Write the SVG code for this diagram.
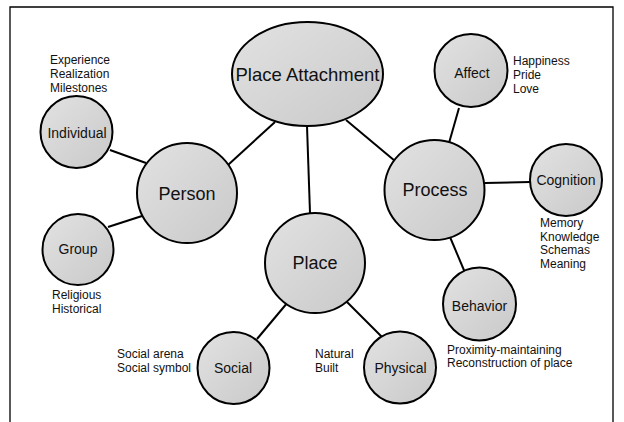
<svg xmlns="http://www.w3.org/2000/svg" width="624" height="422" viewBox="0 0 624 422">
  <defs>
    <linearGradient id="nodeFill" x1="0" y1="0" x2="1" y2="1">
      <stop offset="0" stop-color="#e2e2e2"/>
      <stop offset="1" stop-color="#c9c9c9"/>
    </linearGradient>
  </defs>
  <style>
    .node { fill: url(#nodeFill); stroke: #000; stroke-width: 2; }
    .edge { stroke: #000; stroke-width: 2; fill: none; }
    .frame { stroke: #000; stroke-width: 1.3; fill: none; }
    text { font-family: "Liberation Sans", Arial, sans-serif; fill: #111; }
    .big { font-size: 18px; text-anchor: middle; }
    .title { font-size: 18.5px; text-anchor: middle; }
    .mid { font-size: 14px; text-anchor: middle; }
    .note { font-size: 12px; }
  </style>

  <!-- outer frame: open at the bottom -->
  <path class="frame" d="M10,422 V7 H613 V422"/>

  <!-- connectors -->
  <g id="connectors">
    <line class="edge" x1="275" y1="122" x2="228" y2="165"/>
    <line class="edge" x1="307" y1="126" x2="310" y2="213"/>
    <line class="edge" x1="346" y1="120" x2="395" y2="161"/>
    <line class="edge" x1="459" y1="108" x2="449" y2="143"/>
    <line class="edge" x1="485" y1="183" x2="530" y2="182"/>
    <line class="edge" x1="450" y1="237" x2="466" y2="275"/>
    <line class="edge" x1="110" y1="150" x2="146" y2="163"/>
    <line class="edge" x1="108" y1="227" x2="142" y2="216"/>
    <line class="edge" x1="288" y1="302" x2="257" y2="339"/>
    <line class="edge" x1="345" y1="300" x2="382" y2="337"/>
  </g>

  <g id="place-attachment">
    <ellipse class="node" cx="307.5" cy="74" rx="75.5" ry="52"/>
    <text class="title" x="307.5" y="81">Place Attachment</text>
  </g>

  <g id="person">
    <circle class="node" cx="187" cy="193" r="50"/>
    <text class="big" x="187" y="200">Person</text>
  </g>

  <g id="individual">
    <circle class="node" cx="76.5" cy="132" r="36"/>
    <text class="mid" x="77" y="138">Individual</text>
    <text class="note" x="50" y="64">Experience</text>
    <text class="note" x="50" y="78">Realization</text>
    <text class="note" x="50" y="92">Milestones</text>
  </g>

  <g id="group">
    <circle class="node" cx="78" cy="249.5" r="35.5"/>
    <text class="mid" x="78" y="254">Group</text>
    <text class="note" x="52" y="299">Religious</text>
    <text class="note" x="52" y="313">Historical</text>
  </g>

  <g id="place">
    <circle class="node" cx="315" cy="263" r="50"/>
    <text class="big" x="315" y="269">Place</text>
  </g>

  <g id="social">
    <circle class="node" cx="233.5" cy="368" r="36"/>
    <text class="mid" x="233" y="373">Social</text>
    <text class="note" x="117" y="358">Social arena</text>
    <text class="note" x="117" y="372">Social symbol</text>
  </g>

  <g id="physical">
    <circle class="node" cx="400" cy="367.5" r="36"/>
    <text class="mid" x="400.5" y="373">Physical</text>
    <text class="note" x="315" y="358">Natural</text>
    <text class="note" x="315" y="372">Built</text>
  </g>

  <g id="process">
    <circle class="node" cx="434.5" cy="190" r="50"/>
    <text class="big" x="435" y="196">Process</text>
  </g>

  <g id="affect">
    <circle class="node" cx="471" cy="70.5" r="36.5"/>
    <text class="mid" x="472" y="78">Affect</text>
    <text class="note" x="513" y="65">Happiness</text>
    <text class="note" x="513" y="79">Pride</text>
    <text class="note" x="513" y="93">Love</text>
  </g>

  <g id="cognition">
    <circle class="node" cx="566" cy="180" r="36"/>
    <text class="mid" x="566" y="185">Cognition</text>
    <text class="note" x="540" y="227">Memory</text>
    <text class="note" x="540" y="241">Knowledge</text>
    <text class="note" x="540" y="254">Schemas</text>
    <text class="note" x="540" y="268">Meaning</text>
  </g>

  <g id="behavior">
    <circle class="node" cx="479.5" cy="304" r="36.5"/>
    <text class="mid" x="479.5" y="311">Behavior</text>
    <text class="note" x="447" y="354">Proximity-maintaining</text>
    <text class="note" x="447" y="367">Reconstruction of place</text>
  </g>
</svg>
